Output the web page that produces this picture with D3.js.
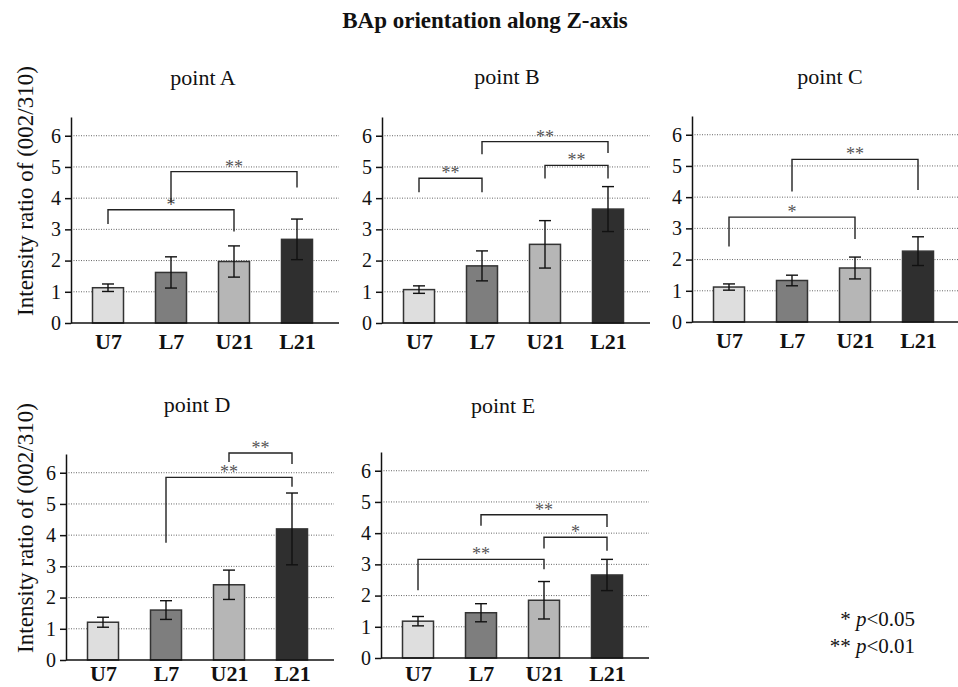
<!DOCTYPE html>
<html>
<head>
<meta charset="utf-8">
<script src="https://d3js.org/d3.v7.min.js"></script>
<style>
body { margin: 0; background: #fff; }
svg { font-family: "Liberation Serif", "Times New Roman", serif; }
</style>
</head>
<body>
<svg id="drawing_region"></svg>
<script>
const categories = ['U7', 'L7', 'U21', 'L21'];
const panelTitles = ['point A', 'point B', 'point C', 'point D', 'point E'];
const yTicks = [0, 1, 2, 3, 4, 5, 6];
const barColors = ['#dedede', '#7e7e7e', '#b6b6b6', '#2f2f2f'];

// mean intensity ratio (002/310), one row per point, columns follow categories
const means = [
    [1.13, 1.62, 1.97, 2.68],
    [1.07, 1.83, 2.52, 3.65],
    [1.12, 1.33, 1.73, 2.27],
    [1.21, 1.60, 2.41, 4.20],
    [1.18, 1.45, 1.85, 2.66]
];
// standard deviation
const errors = [
    [0.12, 0.50, 0.50, 0.65],
    [0.12, 0.48, 0.76, 0.72],
    [0.10, 0.17, 0.35, 0.46],
    [0.16, 0.30, 0.47, 1.15],
    [0.15, 0.29, 0.60, 0.50]
];
// significance brackets: from, to, mark, bracket level, left leg end, right leg end
const brackets = [
    [['U7', 'U21', '*', 3.63, 3.17, 2.93], ['L7', 'L21', '**', 4.85, 3.86, 4.34]],
    [['U7', 'L7', '**', 4.64, 4.19, 4.19], ['L7', 'L21', '**', 5.81, 5.41, 5.45], ['U21', 'L21', '**', 5.05, 4.63, 4.63]],
    [['U7', 'U21', '*', 3.36, 2.42, 2.66], ['L7', 'L21', '**', 5.21, 4.18, 4.23]],
    [['L7', 'L21', '**', 5.85, 3.76, 5.55], ['U21', 'L21', '**', 6.63, 6.34, 6.28]],
    [['U7', 'U21', '**', 3.16, 2.17, 2.84], ['L7', 'L21', '**', 4.59, 4.24, 4.20], ['U21', 'L21', '*', 3.87, 3.51, 3.44]]
];

const layout = [
    {x: 71,  y: 323, titleX: 132, titleY: -238, labelPad: 10, ylabel: true},
    {x: 382, y: 323, titleX: 125, titleY: -239, labelPad: 10, ylabel: false},
    {x: 692, y: 322, titleX: 138, titleY: -238, labelPad: 10, ylabel: false},
    {x: 66,  y: 660, titleX: 131, titleY: -248, labelPad: 5, ylabel: true},
    {x: 381, y: 658, titleX: 122, titleY: -245, labelPad: 7, ylabel: false}
];

const svg = d3.select('#drawing_region')
    .attr('width', 958)
    .attr('height', 687);

svg.append('text')
    .attr('x', 485)
    .attr('y', 28)
    .attr('text-anchor', 'middle')
    .attr('font-size', '23px')
    .attr('font-weight', 'bold')
    .attr('fill', '#111')
    .text('BAp orientation along Z-axis');

class BarPanel {
    constructor(config, idx) {
        this.config = {
            parent: config.parent,
            x: config.x,
            y: config.y,
            width: config.width || 268,
            height: config.height || 206,
            titleX: config.titleX,
            titleY: config.titleY,
            labelPad: config.labelPad,
            ylabel: config.ylabel
        };
        this.idx = idx;
        this.data = categories.map((c, i) => ({cat: c, mean: means[idx][i], err: errors[idx][i], color: barColors[i]}));
        this.init();
    }
    init() {
        let self = this;
        self.chart = self.config.parent.append('g')
            .attr('transform', `translate(${self.config.x}, ${self.config.y})`);

        self.xscale = d3.scalePoint()
            .domain(categories)
            .range([37, 226]);

        self.yscale = d3.scaleLinear()
            .domain([0, 6.6])
            .range([0, -self.config.height]);

        self.yaxis = d3.axisLeft(self.yscale)
            .tickValues(yTicks)
            .tickFormat(d3.format('d'))
            .tickSize(6)
            .tickSizeOuter(0)
            .tickPadding(4);

        self.xaxis = d3.axisBottom(self.xscale)
            .tickSize(0)
            .tickPadding(self.config.labelPad);

        self.render();
    }
    render() {
        let self = this;
        const w = self.config.width;

        // dotted grid
        self.chart.selectAll('.grid')
            .data(yTicks.filter(d => d > 0))
            .enter()
            .append('line')
            .attr('x1', 0)
            .attr('x2', w)
            .attr('y1', d => self.yscale(d))
            .attr('y2', d => self.yscale(d))
            .attr('stroke', '#666')
            .attr('stroke-width', 1)
            .attr('stroke-dasharray', '1,1.5');

        self.chart.selectAll('.bar')
            .data(self.data)
            .enter()
            .append('rect')
            .attr('x', d => self.xscale(d.cat) - 15.5)
            .attr('y', d => self.yscale(d.mean))
            .attr('width', 31)
            .attr('height', d => self.yscale(0) - self.yscale(d.mean))
            .attr('fill', d => d.color)
            .attr('stroke', '#333')
            .attr('stroke-width', 1.5);

        const eb = self.chart.selectAll('.err')
            .data(self.data)
            .enter()
            .append('g')
            .attr('stroke', '#111')
            .attr('stroke-width', 1.4);
        eb.append('line')
            .attr('x1', d => self.xscale(d.cat))
            .attr('x2', d => self.xscale(d.cat))
            .attr('y1', d => self.yscale(d.mean - d.err))
            .attr('y2', d => self.yscale(d.mean + d.err));
        [-1, 1].forEach(s => {
            eb.append('line')
                .attr('x1', d => self.xscale(d.cat) - 6)
                .attr('x2', d => self.xscale(d.cat) + 6)
                .attr('y1', d => self.yscale(d.mean + s * d.err))
                .attr('y2', d => self.yscale(d.mean + s * d.err));
        });

        // significance brackets
        const br = self.chart.selectAll('.bracket')
            .data(brackets[self.idx])
            .enter()
            .append('g');
        br.append('path')
            .attr('d', d => {
                const x1 = self.xscale(d[0]), x2 = self.xscale(d[1]);
                return `M${x1},${self.yscale(d[4])}V${self.yscale(d[3])}H${x2}V${self.yscale(d[5])}`;
            })
            .attr('fill', 'none')
            .attr('stroke', '#222')
            .attr('stroke-width', 1.4);
        br.append('text')
            .attr('x', d => (self.xscale(d[0]) + self.xscale(d[1])) / 2)
            .attr('y', d => self.yscale(d[3]) + 1)
            .attr('text-anchor', 'middle')
            .attr('font-size', '18px')
            .attr('fill', '#555')
            .text(d => d[2]);

        // axes
        self.chart.append('line')
            .attr('x1', 0)
            .attr('x2', w)
            .attr('y1', 0)
            .attr('y2', 0)
            .attr('stroke', '#111')
            .attr('stroke-width', 1.5);

        self.chart.append('g')
            .call(self.yaxis)
            .attr('font-family', null)
            .attr('font-size', '20px')
            .call(g => g.selectAll('path, line').attr('stroke', '#111').attr('stroke-width', 1.5))
            .call(g => g.selectAll('text').attr('fill', '#111'));

        self.chart.append('g')
            .call(self.xaxis)
            .attr('font-family', null)
            .attr('font-size', '22px')
            .attr('font-weight', 'bold')
            .call(g => g.select('.domain').remove())
            .call(g => g.selectAll('text').attr('fill', '#111'));

        self.chart.append('text')
            .attr('x', self.config.titleX)
            .attr('y', self.config.titleY)
            .attr('text-anchor', 'middle')
            .attr('font-size', '22px')
            .attr('fill', '#111')
            .text(panelTitles[self.idx]);

        if (self.config.ylabel) {
            self.chart.append('text')
                .attr('transform', `translate(${33 - self.config.x}, ${-132}) rotate(-90)`)
                .attr('text-anchor', 'middle')
                .attr('font-size', '23px')
                .attr('fill', '#111')
                .text('Intensity ratio of (002/310)');
        }
    }
}

layout.forEach((l, i) => {
    new BarPanel(Object.assign({parent: svg}, l), i);
});

const legend = svg.append('g')
    .attr('font-size', '21px')
    .attr('fill', '#111')
    .attr('text-anchor', 'end');
[['* ', 'p', '<0.05', 626], ['** ', 'p', '<0.01', 653]].forEach(r => {
    const t = legend.append('text').attr('x', 915).attr('y', r[3]);
    t.append('tspan').text(r[0]);
    t.append('tspan').attr('font-style', 'italic').text(r[1]);
    t.append('tspan').text(r[2]);
});
</script>
</body>
</html>
